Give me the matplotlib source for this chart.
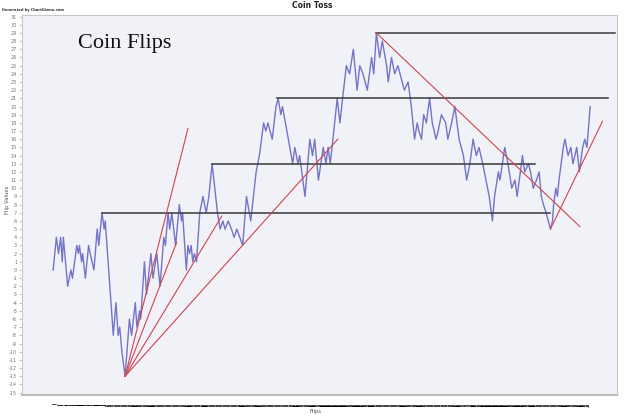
import matplotlib
matplotlib.use("Agg")
import matplotlib.pyplot as plt

# Random walk: flip number and running total at each turning point
flip_idx = [0, 6, 10, 14, 17, 19, 27, 33, 36, 44, 47, 49, 53, 55, 60, 66, 69, 76, 82, 85,
            91, 95, 97, 112, 117, 121, 124, 128, 134,
            142, 146, 153, 156, 161, 163, 170, 174, 182, 186, 193, 199, 206, 209, 214, 217,
            221, 228, 235, 239, 241, 248, 251, 254, 257, 260, 263, 267, 273, 279, 285, 290,
            296, 306, 311, 316, 320, 326, 332, 337, 342, 353, 360, 368, 373, 378, 384, 392,
            396, 400, 404, 408, 415, 419, 424, 427, 438, 446, 450, 456, 459, 469, 478, 483,
            487, 494, 503, 508, 512, 516, 521, 529, 534, 539, 546, 552, 559, 566, 571, 577,
            585, 593, 597, 602, 608, 613, 621, 624, 630, 636, 642, 650, 654, 661, 667, 673,
            678, 681, 686, 690, 695, 701, 706, 713, 717, 723, 731, 735, 742, 748, 756, 764,
            770, 776, 782, 788, 793, 800, 806, 812, 818, 822, 829, 832, 841, 847, 854, 860,
            864, 874, 878, 885, 889, 894, 900, 905, 909, 913, 918, 926, 930, 932, 936, 939,
            942, 950, 953, 959, 964, 968, 975, 980, 986, 990, 994, 1000]
flip_val = [0, 4, 2, 4, 1, 4, -2, 0, -1, 3, 2, 3, 1, 2, -1, 3, 2, 0, 5, 3,
            7, 5, 6, -8, -4, -8, -7, -10, -13,
            -6, -8, -4, -7, -5, -6, 1, -3, 2, -1, 2, -2, 4, 3, 7, 5,
            7, 3, 8, 6, 7, 0, 3, 2, 3, 1, 2, 1, 7, 9, 7, 9,
            13, 7, 5, 6, 5, 6, 5, 4, 5, 3, 9, 6, 9, 12, 14, 18,
            17, 18, 17, 16, 20, 21, 19, 20, 16, 13, 15, 13, 14, 9, 16, 14,
            16, 11, 15, 13, 15, 13, 16, 21, 18, 21, 25, 24, 27, 22, 25, 24,
            22, 26, 24, 29, 26, 28, 25, 23, 26, 24, 25, 23, 22, 23, 20, 16,
            18, 17, 16, 19, 18, 21, 18, 16, 17, 19, 18, 16, 18, 20, 16, 14,
            11, 13, 16, 14, 15, 13, 11, 9, 6, 9, 12, 11, 15, 13, 10, 11,
            9, 14, 12, 13, 12, 10, 11, 12, 9, 8, 7, 5, 6, 8, 10, 9,
            11, 15, 16, 14, 15, 13, 15, 12, 15, 16, 15, 20]

# Horizontal resistance/support lines: level, start flip, end flip
level_vals = [7, 13, 21, 29]
level_start = [91, 295, 417, 602]
level_end = [925, 897, 1033, 1046]

# Red trend lines: (start flip, start value) -> (end flip, end value)
trend_x0 = [134, 134, 134, 134, 602, 926]
trend_y0 = [-13, -13, -13, -13, 29, 5]
trend_x1 = [251, 230, 314, 530, 981, 1023]
trend_y1 = [17.3, 3.4, 6.6, 16.0, 5.3, 18.2]

n_flips = 1000
y_ticks = list(range(-15, 32))

fig = plt.figure(figsize=(6.25, 4.17), dpi=100)
ax = fig.add_axes([22 / 625, 1 - 395 / 417, 595 / 625, 380 / 417])
ax.set_facecolor("#f1f1f8")

ax.plot(flip_idx, flip_val, color="#7474c8", lw=1.0, zorder=3)

for v, a, b in zip(level_vals, level_start, level_end):
    ax.plot([a, b], [v, v], color="#3a3a3a", lw=1.1, zorder=4)

for a, b, c, d in zip(trend_x0, trend_y0, trend_x1, trend_y1):
    ax.plot([a, c], [b, d], color="#d0454f", lw=0.8, zorder=5)

ax.set_xlim(-58, 1050)
ax.set_ylim(-15.3, 31.2)

ax.set_yticks(y_ticks)
ax.set_yticklabels([str(t) for t in y_ticks], fontsize=3.6, color="#777777")
ax.tick_params(axis="y", length=2, width=0.5, color="#aaaaaa", pad=1.5)

# one label per flip, packed so tightly they form a dark band as in the original
ax.set_xticks(range(n_flips))
ax.set_xticklabels([str(i + 1) for i in range(n_flips)], fontsize=0.3,
                   rotation=90, color="#000000", fontweight="bold")
ax.tick_params(axis="x", length=0, pad=5.5)

for s in ax.spines.values():
    s.set_color("#c8c8c8")
    s.set_linewidth(0.8)
ax.spines["bottom"].set_color("#bbbbbb")
ax.spines["bottom"].set_linewidth(1.5)

fig.text(0.5, 1 - 6 / 417, "Coin Toss", ha="center", va="center",
         fontsize=5.5, fontweight="bold", color="#222222")
fig.text(2 / 625, 1 - 10 / 417, "Generated by ChartGizmo.com", ha="left", va="center",
         fontsize=2.6, fontweight="bold", color="#333333")
fig.text(78 / 625, 1 - 48 / 417, "Coin Flips", ha="left", va="baseline",
         fontsize=16, family="Liberation Serif", color="#111111")
fig.text(8 / 625, 1 - 200 / 417, "Flip Values", ha="center", va="center",
         rotation=90, fontsize=3.8, color="#555555")
fig.text(316 / 625, 1 - 412 / 417, "Flips", ha="center", va="center",
         fontsize=3.8, color="#555555")

fig.savefig("out.png", dpi=100)
